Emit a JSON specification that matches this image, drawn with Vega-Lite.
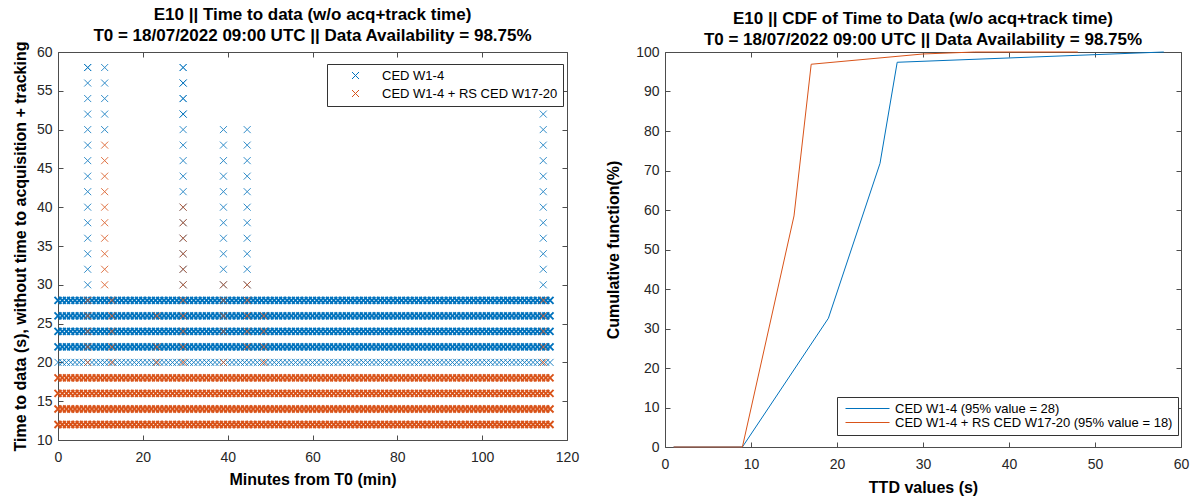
{
"$schema": "https://vega.github.io/schema/vega-lite/v6.json",
"padding": {"left": 11, "top": 5, "right": 5, "bottom": 2},
"background": "white",
"config": {
 "font": "Liberation Sans",
 "view": {"stroke": "#4d4d4d", "strokeWidth": 1},
 "axis": {"domain": false, "grid": false, "ticks": true, "tickSize": -5, "tickColor": "#4d4d4d", "tickWidth": 1, "labelFont": "Liberation Sans", "labelFontSize": 14, "labelColor": "#262626", "labelFlush": false, "labelOverlap": false, "titleFont": "Liberation Sans", "titleFontSize": 16, "titleFontWeight": "bold", "titleColor": "#000000"},
 "legend": {"strokeColor": "#333333", "fillColor": "#ffffff", "labelFont": "Liberation Sans", "labelFontSize": 13, "labelColor": "#000000", "labelLimit": 500, "padding": 5},
 "title": {"font": "Liberation Sans", "fontSize": 17, "fontWeight": "bold", "color": "#000000", "lineHeight": 21, "offset": -4, "anchor": "middle"}
},
"datasets": {
 "bd": [
{"x":0,"y":28},{"x":1,"y":28},{"x":2,"y":28},{"x":3,"y":28},{"x":4,"y":28},{"x":5,"y":28},{"x":6,"y":28},{"x":7,"y":28},{"x":8,"y":28},{"x":9,"y":28},{"x":10,"y":28},{"x":11,"y":28},{"x":12,"y":28},{"x":13,"y":28},{"x":14,"y":28},{"x":15,"y":28},{"x":16,"y":28},{"x":17,"y":28},{"x":18,"y":28},{"x":19,"y":28},{"x":20,"y":28},{"x":21,"y":28},{"x":22,"y":28},{"x":23,"y":28},{"x":24,"y":28},{"x":25,"y":28},{"x":26,"y":28},{"x":27,"y":28},{"x":28,"y":28},{"x":29,"y":28},{"x":30,"y":28},{"x":31,"y":28},{"x":32,"y":28},{"x":33,"y":28},{"x":34,"y":28},{"x":35,"y":28},{"x":36,"y":28},{"x":37,"y":28},{"x":38,"y":28},{"x":39,"y":28},{"x":40,"y":28},{"x":41,"y":28},{"x":42,"y":28},{"x":43,"y":28},{"x":44,"y":28},{"x":45,"y":28},{"x":46,"y":28},{"x":47,"y":28},{"x":48,"y":28},{"x":49,"y":28},{"x":50,"y":28},{"x":51,"y":28},{"x":52,"y":28},{"x":53,"y":28},{"x":54,"y":28},{"x":55,"y":28},{"x":56,"y":28},{"x":57,"y":28},{"x":58,"y":28},{"x":59,"y":28},{"x":60,"y":28},{"x":61,"y":28},{"x":62,"y":28},{"x":63,"y":28},{"x":64,"y":28},{"x":65,"y":28},{"x":66,"y":28},{"x":67,"y":28},{"x":68,"y":28},{"x":69,"y":28},{"x":70,"y":28},{"x":71,"y":28},{"x":72,"y":28},{"x":73,"y":28},{"x":74,"y":28},{"x":75,"y":28},{"x":76,"y":28},{"x":77,"y":28},{"x":78,"y":28},{"x":79,"y":28},{"x":80,"y":28},{"x":81,"y":28},{"x":82,"y":28},{"x":83,"y":28},{"x":84,"y":28},{"x":85,"y":28},{"x":86,"y":28},{"x":87,"y":28},{"x":88,"y":28},{"x":89,"y":28},{"x":90,"y":28},{"x":91,"y":28},{"x":92,"y":28},{"x":93,"y":28},{"x":94,"y":28},{"x":95,"y":28},{"x":96,"y":28},{"x":97,"y":28},{"x":98,"y":28},{"x":99,"y":28},{"x":100,"y":28},{"x":101,"y":28},{"x":102,"y":28},{"x":103,"y":28},{"x":104,"y":28},{"x":105,"y":28},{"x":106,"y":28},{"x":107,"y":28},{"x":108,"y":28},{"x":109,"y":28},{"x":110,"y":28},{"x":111,"y":28},{"x":112,"y":28},{"x":113,"y":28},{"x":114,"y":28},{"x":115,"y":28},{"x":116,"y":28},
{"x":0,"y":26},{"x":1,"y":26},{"x":2,"y":26},{"x":3,"y":26},{"x":4,"y":26},{"x":5,"y":26},{"x":6,"y":26},{"x":7,"y":26},{"x":8,"y":26},{"x":9,"y":26},{"x":10,"y":26},{"x":11,"y":26},{"x":12,"y":26},{"x":13,"y":26},{"x":14,"y":26},{"x":15,"y":26},{"x":16,"y":26},{"x":17,"y":26},{"x":18,"y":26},{"x":19,"y":26},{"x":20,"y":26},{"x":21,"y":26},{"x":22,"y":26},{"x":23,"y":26},{"x":24,"y":26},{"x":25,"y":26},{"x":26,"y":26},{"x":27,"y":26},{"x":28,"y":26},{"x":29,"y":26},{"x":30,"y":26},{"x":31,"y":26},{"x":32,"y":26},{"x":33,"y":26},{"x":34,"y":26},{"x":35,"y":26},{"x":36,"y":26},{"x":37,"y":26},{"x":38,"y":26},{"x":39,"y":26},{"x":40,"y":26},{"x":41,"y":26},{"x":42,"y":26},{"x":43,"y":26},{"x":44,"y":26},{"x":45,"y":26},{"x":46,"y":26},{"x":47,"y":26},{"x":48,"y":26},{"x":49,"y":26},{"x":50,"y":26},{"x":51,"y":26},{"x":52,"y":26},{"x":53,"y":26},{"x":54,"y":26},{"x":55,"y":26},{"x":56,"y":26},{"x":57,"y":26},{"x":58,"y":26},{"x":59,"y":26},{"x":60,"y":26},{"x":61,"y":26},{"x":62,"y":26},{"x":63,"y":26},{"x":64,"y":26},{"x":65,"y":26},{"x":66,"y":26},{"x":67,"y":26},{"x":68,"y":26},{"x":69,"y":26},{"x":70,"y":26},{"x":71,"y":26},{"x":72,"y":26},{"x":73,"y":26},{"x":74,"y":26},{"x":75,"y":26},{"x":76,"y":26},{"x":77,"y":26},{"x":78,"y":26},{"x":79,"y":26},{"x":80,"y":26},{"x":81,"y":26},{"x":82,"y":26},{"x":83,"y":26},{"x":84,"y":26},{"x":85,"y":26},{"x":86,"y":26},{"x":87,"y":26},{"x":88,"y":26},{"x":89,"y":26},{"x":90,"y":26},{"x":91,"y":26},{"x":92,"y":26},{"x":93,"y":26},{"x":94,"y":26},{"x":95,"y":26},{"x":96,"y":26},{"x":97,"y":26},{"x":98,"y":26},{"x":99,"y":26},{"x":100,"y":26},{"x":101,"y":26},{"x":102,"y":26},{"x":103,"y":26},{"x":104,"y":26},{"x":105,"y":26},{"x":106,"y":26},{"x":107,"y":26},{"x":108,"y":26},{"x":109,"y":26},{"x":110,"y":26},{"x":111,"y":26},{"x":112,"y":26},{"x":113,"y":26},{"x":114,"y":26},{"x":115,"y":26},{"x":116,"y":26},
{"x":0,"y":24},{"x":1,"y":24},{"x":2,"y":24},{"x":3,"y":24},{"x":4,"y":24},{"x":5,"y":24},{"x":6,"y":24},{"x":7,"y":24},{"x":8,"y":24},{"x":9,"y":24},{"x":10,"y":24},{"x":11,"y":24},{"x":12,"y":24},{"x":13,"y":24},{"x":14,"y":24},{"x":15,"y":24},{"x":16,"y":24},{"x":17,"y":24},{"x":18,"y":24},{"x":19,"y":24},{"x":20,"y":24},{"x":21,"y":24},{"x":22,"y":24},{"x":23,"y":24},{"x":24,"y":24},{"x":25,"y":24},{"x":26,"y":24},{"x":27,"y":24},{"x":28,"y":24},{"x":29,"y":24},{"x":30,"y":24},{"x":31,"y":24},{"x":32,"y":24},{"x":33,"y":24},{"x":34,"y":24},{"x":35,"y":24},{"x":36,"y":24},{"x":37,"y":24},{"x":38,"y":24},{"x":39,"y":24},{"x":40,"y":24},{"x":41,"y":24},{"x":42,"y":24},{"x":43,"y":24},{"x":44,"y":24},{"x":45,"y":24},{"x":46,"y":24},{"x":47,"y":24},{"x":48,"y":24},{"x":49,"y":24},{"x":50,"y":24},{"x":51,"y":24},{"x":52,"y":24},{"x":53,"y":24},{"x":54,"y":24},{"x":55,"y":24},{"x":56,"y":24},{"x":57,"y":24},{"x":58,"y":24},{"x":59,"y":24},{"x":60,"y":24},{"x":61,"y":24},{"x":62,"y":24},{"x":63,"y":24},{"x":64,"y":24},{"x":65,"y":24},{"x":66,"y":24},{"x":67,"y":24},{"x":68,"y":24},{"x":69,"y":24},{"x":70,"y":24},{"x":71,"y":24},{"x":72,"y":24},{"x":73,"y":24},{"x":74,"y":24},{"x":75,"y":24},{"x":76,"y":24},{"x":77,"y":24},{"x":78,"y":24},{"x":79,"y":24},{"x":80,"y":24},{"x":81,"y":24},{"x":82,"y":24},{"x":83,"y":24},{"x":84,"y":24},{"x":85,"y":24},{"x":86,"y":24},{"x":87,"y":24},{"x":88,"y":24},{"x":89,"y":24},{"x":90,"y":24},{"x":91,"y":24},{"x":92,"y":24},{"x":93,"y":24},{"x":94,"y":24},{"x":95,"y":24},{"x":96,"y":24},{"x":97,"y":24},{"x":98,"y":24},{"x":99,"y":24},{"x":100,"y":24},{"x":101,"y":24},{"x":102,"y":24},{"x":103,"y":24},{"x":104,"y":24},{"x":105,"y":24},{"x":106,"y":24},{"x":107,"y":24},{"x":108,"y":24},{"x":109,"y":24},{"x":110,"y":24},{"x":111,"y":24},{"x":112,"y":24},{"x":113,"y":24},{"x":114,"y":24},{"x":115,"y":24},{"x":116,"y":24},
{"x":0,"y":22},{"x":1,"y":22},{"x":2,"y":22},{"x":3,"y":22},{"x":4,"y":22},{"x":5,"y":22},{"x":6,"y":22},{"x":7,"y":22},{"x":8,"y":22},{"x":9,"y":22},{"x":10,"y":22},{"x":11,"y":22},{"x":12,"y":22},{"x":13,"y":22},{"x":14,"y":22},{"x":15,"y":22},{"x":16,"y":22},{"x":17,"y":22},{"x":18,"y":22},{"x":19,"y":22},{"x":20,"y":22},{"x":21,"y":22},{"x":22,"y":22},{"x":23,"y":22},{"x":24,"y":22},{"x":25,"y":22},{"x":26,"y":22},{"x":27,"y":22},{"x":28,"y":22},{"x":29,"y":22},{"x":30,"y":22},{"x":31,"y":22},{"x":32,"y":22},{"x":33,"y":22},{"x":34,"y":22},{"x":35,"y":22},{"x":36,"y":22},{"x":37,"y":22},{"x":38,"y":22},{"x":39,"y":22},{"x":40,"y":22},{"x":41,"y":22},{"x":42,"y":22},{"x":43,"y":22},{"x":44,"y":22},{"x":45,"y":22},{"x":46,"y":22},{"x":47,"y":22},{"x":48,"y":22},{"x":49,"y":22},{"x":50,"y":22},{"x":51,"y":22},{"x":52,"y":22},{"x":53,"y":22},{"x":54,"y":22},{"x":55,"y":22},{"x":56,"y":22},{"x":57,"y":22},{"x":58,"y":22},{"x":59,"y":22},{"x":60,"y":22},{"x":61,"y":22},{"x":62,"y":22},{"x":63,"y":22},{"x":64,"y":22},{"x":65,"y":22},{"x":66,"y":22},{"x":67,"y":22},{"x":68,"y":22},{"x":69,"y":22},{"x":70,"y":22},{"x":71,"y":22},{"x":72,"y":22},{"x":73,"y":22},{"x":74,"y":22},{"x":75,"y":22},{"x":76,"y":22},{"x":77,"y":22},{"x":78,"y":22},{"x":79,"y":22},{"x":80,"y":22},{"x":81,"y":22},{"x":82,"y":22},{"x":83,"y":22},{"x":84,"y":22},{"x":85,"y":22},{"x":86,"y":22},{"x":87,"y":22},{"x":88,"y":22},{"x":89,"y":22},{"x":90,"y":22},{"x":91,"y":22},{"x":92,"y":22},{"x":93,"y":22},{"x":94,"y":22},{"x":95,"y":22},{"x":96,"y":22},{"x":97,"y":22},{"x":98,"y":22},{"x":99,"y":22},{"x":100,"y":22},{"x":101,"y":22},{"x":102,"y":22},{"x":103,"y":22},{"x":104,"y":22},{"x":105,"y":22},{"x":106,"y":22},{"x":107,"y":22},{"x":108,"y":22},{"x":109,"y":22},{"x":110,"y":22},{"x":111,"y":22},{"x":112,"y":22},{"x":113,"y":22},{"x":114,"y":22},{"x":115,"y":22},{"x":116,"y":22}
 ],
 "bl": [
{"x":0,"y":20},{"x":1,"y":20},{"x":2,"y":20},{"x":3,"y":20},{"x":4,"y":20},{"x":5,"y":20},{"x":6,"y":20},{"x":7,"y":20},{"x":8,"y":20},{"x":9,"y":20},{"x":10,"y":20},{"x":11,"y":20},{"x":12,"y":20},{"x":13,"y":20},{"x":14,"y":20},{"x":15,"y":20},{"x":16,"y":20},{"x":17,"y":20},{"x":18,"y":20},{"x":19,"y":20},{"x":20,"y":20},{"x":21,"y":20},{"x":22,"y":20},{"x":23,"y":20},{"x":24,"y":20},{"x":25,"y":20},{"x":26,"y":20},{"x":27,"y":20},{"x":28,"y":20},{"x":29,"y":20},{"x":30,"y":20},{"x":31,"y":20},{"x":32,"y":20},{"x":33,"y":20},{"x":34,"y":20},{"x":35,"y":20},{"x":36,"y":20},{"x":37,"y":20},{"x":38,"y":20},{"x":39,"y":20},{"x":40,"y":20},{"x":41,"y":20},{"x":42,"y":20},{"x":43,"y":20},{"x":44,"y":20},{"x":45,"y":20},{"x":46,"y":20},{"x":47,"y":20},{"x":48,"y":20},{"x":49,"y":20},{"x":50,"y":20},{"x":51,"y":20},{"x":52,"y":20},{"x":53,"y":20},{"x":54,"y":20},{"x":55,"y":20},{"x":56,"y":20},{"x":57,"y":20},{"x":58,"y":20},{"x":59,"y":20},{"x":60,"y":20},{"x":61,"y":20},{"x":62,"y":20},{"x":63,"y":20},{"x":64,"y":20},{"x":65,"y":20},{"x":66,"y":20},{"x":67,"y":20},{"x":68,"y":20},{"x":69,"y":20},{"x":70,"y":20},{"x":71,"y":20},{"x":72,"y":20},{"x":73,"y":20},{"x":74,"y":20},{"x":75,"y":20},{"x":76,"y":20},{"x":77,"y":20},{"x":78,"y":20},{"x":79,"y":20},{"x":80,"y":20},{"x":81,"y":20},{"x":82,"y":20},{"x":83,"y":20},{"x":84,"y":20},{"x":85,"y":20},{"x":86,"y":20},{"x":87,"y":20},{"x":88,"y":20},{"x":89,"y":20},{"x":90,"y":20},{"x":91,"y":20},{"x":92,"y":20},{"x":93,"y":20},{"x":94,"y":20},{"x":95,"y":20},{"x":96,"y":20},{"x":97,"y":20},{"x":98,"y":20},{"x":99,"y":20},{"x":100,"y":20},{"x":101,"y":20},{"x":102,"y":20},{"x":103,"y":20},{"x":104,"y":20},{"x":105,"y":20},{"x":106,"y":20},{"x":107,"y":20},{"x":108,"y":20},{"x":109,"y":20},{"x":110,"y":20},{"x":111,"y":20},{"x":112,"y":20},{"x":113,"y":20},{"x":114,"y":20},{"x":115,"y":20},{"x":116,"y":20}
 ],
 "bs": [
{"x":7,"y":30},{"x":7,"y":32},{"x":7,"y":34},{"x":7,"y":36},{"x":7,"y":38},{"x":7,"y":40},{"x":7,"y":42},{"x":7,"y":44},{"x":7,"y":46},{"x":7,"y":48},{"x":7,"y":50},{"x":7,"y":52},{"x":7,"y":54},{"x":7,"y":56},{"x":7,"y":58},{"x":7,"y":58},
{"x":11,"y":50},{"x":11,"y":52},{"x":11,"y":54},{"x":11,"y":56},{"x":11,"y":58},
{"x":29.5,"y":30},{"x":29.5,"y":32},{"x":29.5,"y":34},{"x":29.5,"y":36},{"x":29.5,"y":38},{"x":29.5,"y":40},{"x":29.5,"y":42},{"x":29.5,"y":44},{"x":29.5,"y":46},{"x":29.5,"y":48},{"x":29.5,"y":50},{"x":29.5,"y":52},{"x":29.5,"y":54},{"x":29.5,"y":56},{"x":29.5,"y":58},{"x":29.5,"y":52},{"x":29.5,"y":54},{"x":29.5,"y":56},{"x":29.5,"y":58},
{"x":39,"y":30},{"x":39,"y":32},{"x":39,"y":34},{"x":39,"y":36},{"x":39,"y":38},{"x":39,"y":40},{"x":39,"y":42},{"x":39,"y":44},{"x":39,"y":46},{"x":39,"y":48},{"x":39,"y":50},
{"x":44.6,"y":30},{"x":44.6,"y":32},{"x":44.6,"y":34},{"x":44.6,"y":36},{"x":44.6,"y":38},{"x":44.6,"y":40},{"x":44.6,"y":42},{"x":44.6,"y":44},{"x":44.6,"y":46},{"x":44.6,"y":48},{"x":44.6,"y":50},
{"x":114.4,"y":30},{"x":114.4,"y":32},{"x":114.4,"y":34},{"x":114.4,"y":36},{"x":114.4,"y":38},{"x":114.4,"y":40},{"x":114.4,"y":42},{"x":114.4,"y":44},{"x":114.4,"y":46},{"x":114.4,"y":48},{"x":114.4,"y":50},{"x":114.4,"y":52}
 ],
 "od": [
{"x":0,"y":18},{"x":1,"y":18},{"x":2,"y":18},{"x":3,"y":18},{"x":4,"y":18},{"x":5,"y":18},{"x":6,"y":18},{"x":7,"y":18},{"x":8,"y":18},{"x":9,"y":18},{"x":10,"y":18},{"x":11,"y":18},{"x":12,"y":18},{"x":13,"y":18},{"x":14,"y":18},{"x":15,"y":18},{"x":16,"y":18},{"x":17,"y":18},{"x":18,"y":18},{"x":19,"y":18},{"x":20,"y":18},{"x":21,"y":18},{"x":22,"y":18},{"x":23,"y":18},{"x":24,"y":18},{"x":25,"y":18},{"x":26,"y":18},{"x":27,"y":18},{"x":28,"y":18},{"x":29,"y":18},{"x":30,"y":18},{"x":31,"y":18},{"x":32,"y":18},{"x":33,"y":18},{"x":34,"y":18},{"x":35,"y":18},{"x":36,"y":18},{"x":37,"y":18},{"x":38,"y":18},{"x":39,"y":18},{"x":40,"y":18},{"x":41,"y":18},{"x":42,"y":18},{"x":43,"y":18},{"x":44,"y":18},{"x":45,"y":18},{"x":46,"y":18},{"x":47,"y":18},{"x":48,"y":18},{"x":49,"y":18},{"x":50,"y":18},{"x":51,"y":18},{"x":52,"y":18},{"x":53,"y":18},{"x":54,"y":18},{"x":55,"y":18},{"x":56,"y":18},{"x":57,"y":18},{"x":58,"y":18},{"x":59,"y":18},{"x":60,"y":18},{"x":61,"y":18},{"x":62,"y":18},{"x":63,"y":18},{"x":64,"y":18},{"x":65,"y":18},{"x":66,"y":18},{"x":67,"y":18},{"x":68,"y":18},{"x":69,"y":18},{"x":70,"y":18},{"x":71,"y":18},{"x":72,"y":18},{"x":73,"y":18},{"x":74,"y":18},{"x":75,"y":18},{"x":76,"y":18},{"x":77,"y":18},{"x":78,"y":18},{"x":79,"y":18},{"x":80,"y":18},{"x":81,"y":18},{"x":82,"y":18},{"x":83,"y":18},{"x":84,"y":18},{"x":85,"y":18},{"x":86,"y":18},{"x":87,"y":18},{"x":88,"y":18},{"x":89,"y":18},{"x":90,"y":18},{"x":91,"y":18},{"x":92,"y":18},{"x":93,"y":18},{"x":94,"y":18},{"x":95,"y":18},{"x":96,"y":18},{"x":97,"y":18},{"x":98,"y":18},{"x":99,"y":18},{"x":100,"y":18},{"x":101,"y":18},{"x":102,"y":18},{"x":103,"y":18},{"x":104,"y":18},{"x":105,"y":18},{"x":106,"y":18},{"x":107,"y":18},{"x":108,"y":18},{"x":109,"y":18},{"x":110,"y":18},{"x":111,"y":18},{"x":112,"y":18},{"x":113,"y":18},{"x":114,"y":18},{"x":115,"y":18},{"x":116,"y":18},
{"x":0,"y":16},{"x":1,"y":16},{"x":2,"y":16},{"x":3,"y":16},{"x":4,"y":16},{"x":5,"y":16},{"x":6,"y":16},{"x":7,"y":16},{"x":8,"y":16},{"x":9,"y":16},{"x":10,"y":16},{"x":11,"y":16},{"x":12,"y":16},{"x":13,"y":16},{"x":14,"y":16},{"x":15,"y":16},{"x":16,"y":16},{"x":17,"y":16},{"x":18,"y":16},{"x":19,"y":16},{"x":20,"y":16},{"x":21,"y":16},{"x":22,"y":16},{"x":23,"y":16},{"x":24,"y":16},{"x":25,"y":16},{"x":26,"y":16},{"x":27,"y":16},{"x":28,"y":16},{"x":29,"y":16},{"x":30,"y":16},{"x":31,"y":16},{"x":32,"y":16},{"x":33,"y":16},{"x":34,"y":16},{"x":35,"y":16},{"x":36,"y":16},{"x":37,"y":16},{"x":38,"y":16},{"x":39,"y":16},{"x":40,"y":16},{"x":41,"y":16},{"x":42,"y":16},{"x":43,"y":16},{"x":44,"y":16},{"x":45,"y":16},{"x":46,"y":16},{"x":47,"y":16},{"x":48,"y":16},{"x":49,"y":16},{"x":50,"y":16},{"x":51,"y":16},{"x":52,"y":16},{"x":53,"y":16},{"x":54,"y":16},{"x":55,"y":16},{"x":56,"y":16},{"x":57,"y":16},{"x":58,"y":16},{"x":59,"y":16},{"x":60,"y":16},{"x":61,"y":16},{"x":62,"y":16},{"x":63,"y":16},{"x":64,"y":16},{"x":65,"y":16},{"x":66,"y":16},{"x":67,"y":16},{"x":68,"y":16},{"x":69,"y":16},{"x":70,"y":16},{"x":71,"y":16},{"x":72,"y":16},{"x":73,"y":16},{"x":74,"y":16},{"x":75,"y":16},{"x":76,"y":16},{"x":77,"y":16},{"x":78,"y":16},{"x":79,"y":16},{"x":80,"y":16},{"x":81,"y":16},{"x":82,"y":16},{"x":83,"y":16},{"x":84,"y":16},{"x":85,"y":16},{"x":86,"y":16},{"x":87,"y":16},{"x":88,"y":16},{"x":89,"y":16},{"x":90,"y":16},{"x":91,"y":16},{"x":92,"y":16},{"x":93,"y":16},{"x":94,"y":16},{"x":95,"y":16},{"x":96,"y":16},{"x":97,"y":16},{"x":98,"y":16},{"x":99,"y":16},{"x":100,"y":16},{"x":101,"y":16},{"x":102,"y":16},{"x":103,"y":16},{"x":104,"y":16},{"x":105,"y":16},{"x":106,"y":16},{"x":107,"y":16},{"x":108,"y":16},{"x":109,"y":16},{"x":110,"y":16},{"x":111,"y":16},{"x":112,"y":16},{"x":113,"y":16},{"x":114,"y":16},{"x":115,"y":16},{"x":116,"y":16},
{"x":0,"y":14},{"x":1,"y":14},{"x":2,"y":14},{"x":3,"y":14},{"x":4,"y":14},{"x":5,"y":14},{"x":6,"y":14},{"x":7,"y":14},{"x":8,"y":14},{"x":9,"y":14},{"x":10,"y":14},{"x":11,"y":14},{"x":12,"y":14},{"x":13,"y":14},{"x":14,"y":14},{"x":15,"y":14},{"x":16,"y":14},{"x":17,"y":14},{"x":18,"y":14},{"x":19,"y":14},{"x":20,"y":14},{"x":21,"y":14},{"x":22,"y":14},{"x":23,"y":14},{"x":24,"y":14},{"x":25,"y":14},{"x":26,"y":14},{"x":27,"y":14},{"x":28,"y":14},{"x":29,"y":14},{"x":30,"y":14},{"x":31,"y":14},{"x":32,"y":14},{"x":33,"y":14},{"x":34,"y":14},{"x":35,"y":14},{"x":36,"y":14},{"x":37,"y":14},{"x":38,"y":14},{"x":39,"y":14},{"x":40,"y":14},{"x":41,"y":14},{"x":42,"y":14},{"x":43,"y":14},{"x":44,"y":14},{"x":45,"y":14},{"x":46,"y":14},{"x":47,"y":14},{"x":48,"y":14},{"x":49,"y":14},{"x":50,"y":14},{"x":51,"y":14},{"x":52,"y":14},{"x":53,"y":14},{"x":54,"y":14},{"x":55,"y":14},{"x":56,"y":14},{"x":57,"y":14},{"x":58,"y":14},{"x":59,"y":14},{"x":60,"y":14},{"x":61,"y":14},{"x":62,"y":14},{"x":63,"y":14},{"x":64,"y":14},{"x":65,"y":14},{"x":66,"y":14},{"x":67,"y":14},{"x":68,"y":14},{"x":69,"y":14},{"x":70,"y":14},{"x":71,"y":14},{"x":72,"y":14},{"x":73,"y":14},{"x":74,"y":14},{"x":75,"y":14},{"x":76,"y":14},{"x":77,"y":14},{"x":78,"y":14},{"x":79,"y":14},{"x":80,"y":14},{"x":81,"y":14},{"x":82,"y":14},{"x":83,"y":14},{"x":84,"y":14},{"x":85,"y":14},{"x":86,"y":14},{"x":87,"y":14},{"x":88,"y":14},{"x":89,"y":14},{"x":90,"y":14},{"x":91,"y":14},{"x":92,"y":14},{"x":93,"y":14},{"x":94,"y":14},{"x":95,"y":14},{"x":96,"y":14},{"x":97,"y":14},{"x":98,"y":14},{"x":99,"y":14},{"x":100,"y":14},{"x":101,"y":14},{"x":102,"y":14},{"x":103,"y":14},{"x":104,"y":14},{"x":105,"y":14},{"x":106,"y":14},{"x":107,"y":14},{"x":108,"y":14},{"x":109,"y":14},{"x":110,"y":14},{"x":111,"y":14},{"x":112,"y":14},{"x":113,"y":14},{"x":114,"y":14},{"x":115,"y":14},{"x":116,"y":14},
{"x":0,"y":12},{"x":1,"y":12},{"x":2,"y":12},{"x":3,"y":12},{"x":4,"y":12},{"x":5,"y":12},{"x":6,"y":12},{"x":7,"y":12},{"x":8,"y":12},{"x":9,"y":12},{"x":10,"y":12},{"x":11,"y":12},{"x":12,"y":12},{"x":13,"y":12},{"x":14,"y":12},{"x":15,"y":12},{"x":16,"y":12},{"x":17,"y":12},{"x":18,"y":12},{"x":19,"y":12},{"x":20,"y":12},{"x":21,"y":12},{"x":22,"y":12},{"x":23,"y":12},{"x":24,"y":12},{"x":25,"y":12},{"x":26,"y":12},{"x":27,"y":12},{"x":28,"y":12},{"x":29,"y":12},{"x":30,"y":12},{"x":31,"y":12},{"x":32,"y":12},{"x":33,"y":12},{"x":34,"y":12},{"x":35,"y":12},{"x":36,"y":12},{"x":37,"y":12},{"x":38,"y":12},{"x":39,"y":12},{"x":40,"y":12},{"x":41,"y":12},{"x":42,"y":12},{"x":43,"y":12},{"x":44,"y":12},{"x":45,"y":12},{"x":46,"y":12},{"x":47,"y":12},{"x":48,"y":12},{"x":49,"y":12},{"x":50,"y":12},{"x":51,"y":12},{"x":52,"y":12},{"x":53,"y":12},{"x":54,"y":12},{"x":55,"y":12},{"x":56,"y":12},{"x":57,"y":12},{"x":58,"y":12},{"x":59,"y":12},{"x":60,"y":12},{"x":61,"y":12},{"x":62,"y":12},{"x":63,"y":12},{"x":64,"y":12},{"x":65,"y":12},{"x":66,"y":12},{"x":67,"y":12},{"x":68,"y":12},{"x":69,"y":12},{"x":70,"y":12},{"x":71,"y":12},{"x":72,"y":12},{"x":73,"y":12},{"x":74,"y":12},{"x":75,"y":12},{"x":76,"y":12},{"x":77,"y":12},{"x":78,"y":12},{"x":79,"y":12},{"x":80,"y":12},{"x":81,"y":12},{"x":82,"y":12},{"x":83,"y":12},{"x":84,"y":12},{"x":85,"y":12},{"x":86,"y":12},{"x":87,"y":12},{"x":88,"y":12},{"x":89,"y":12},{"x":90,"y":12},{"x":91,"y":12},{"x":92,"y":12},{"x":93,"y":12},{"x":94,"y":12},{"x":95,"y":12},{"x":96,"y":12},{"x":97,"y":12},{"x":98,"y":12},{"x":99,"y":12},{"x":100,"y":12},{"x":101,"y":12},{"x":102,"y":12},{"x":103,"y":12},{"x":104,"y":12},{"x":105,"y":12},{"x":106,"y":12},{"x":107,"y":12},{"x":108,"y":12},{"x":109,"y":12},{"x":110,"y":12},{"x":111,"y":12},{"x":112,"y":12},{"x":113,"y":12},{"x":114,"y":12},{"x":115,"y":12},{"x":116,"y":12}
 ],
 "os": [
{"x":11,"y":30},{"x":11,"y":32},{"x":11,"y":34},{"x":11,"y":36},{"x":11,"y":38},{"x":11,"y":40},{"x":11,"y":42},{"x":11,"y":44},{"x":11,"y":46},{"x":11,"y":48},
{"x":29.5,"y":30},{"x":29.5,"y":32},{"x":29.5,"y":34},{"x":29.5,"y":36},{"x":29.5,"y":38},{"x":29.5,"y":40},
{"x":39,"y":30},{"x":44.6,"y":30},
{"x":7,"y":20},{"x":7,"y":22},{"x":7,"y":24},{"x":7,"y":26},{"x":7,"y":28},
{"x":12.7,"y":20},{"x":12.7,"y":22},{"x":12.7,"y":24},{"x":12.7,"y":26},{"x":12.7,"y":28},
{"x":23.3,"y":20},{"x":23.3,"y":22},{"x":23.3,"y":26},
{"x":29.5,"y":20},{"x":29.5,"y":22},{"x":29.5,"y":24},{"x":29.5,"y":26},{"x":29.5,"y":28},
{"x":39,"y":20},{"x":39,"y":24},{"x":39,"y":26},{"x":39,"y":28},
{"x":44.6,"y":22},{"x":44.6,"y":24},{"x":44.6,"y":26},{"x":44.6,"y":28},
{"x":48.5,"y":20},{"x":48.5,"y":22},{"x":48.5,"y":24},{"x":48.5,"y":26},
{"x":114.4,"y":20},{"x":114.4,"y":22},{"x":114.4,"y":24},{"x":114.4,"y":26},{"x":114.4,"y":28}
 ],
 "cdf": [
{"s":"CED W1-4 (95% value = 28)","x":1,"y":0},
{"s":"CED W1-4 (95% value = 28)","x":9,"y":0},
{"s":"CED W1-4 (95% value = 28)","x":19,"y":32.6},
{"s":"CED W1-4 (95% value = 28)","x":25,"y":71.8},
{"s":"CED W1-4 (95% value = 28)","x":27,"y":97.4},
{"s":"CED W1-4 (95% value = 28)","x":58,"y":100},
{"s":"CED W1-4 + RS CED W17-20 (95% value = 18)","x":1,"y":0},
{"s":"CED W1-4 + RS CED W17-20 (95% value = 18)","x":9,"y":0},
{"s":"CED W1-4 + RS CED W17-20 (95% value = 18)","x":15,"y":58.5},
{"s":"CED W1-4 + RS CED W17-20 (95% value = 18)","x":17,"y":96.9},
{"s":"CED W1-4 + RS CED W17-20 (95% value = 18)","x":30,"y":99.5},
{"s":"CED W1-4 + RS CED W17-20 (95% value = 18)","x":36,"y":100},
{"s":"CED W1-4 + RS CED W17-20 (95% value = 18)","x":48,"y":100}
 ]
},
"hconcat": [
 {
  "width": 509, "height": 388,
  "title": {"text": ["E10 || Time to data (w/o acq+track time)", "T0 = 18/07/2022 09:00 UTC || Data Availability = 98.75%"]},
  "layer": [
   {"data": {"name": "bd"},
    "mark": {"type": "point", "shape": "M-1,-1L1,1M1,-1L-1,1", "size": 49, "strokeWidth": 1.9, "filled": false, "opacity": 1},
    "encoding": {
     "x": {"field": "x", "type": "quantitative", "scale": {"domain": [0, 120], "nice": false, "zero": false}, "axis": {"orient": "bottom", "values": [0,20,40,60,80,100,120], "title": "Minutes from T0 (min)", "labelPadding": 15, "titlePadding": 7}},
     "y": {"field": "y", "type": "quantitative", "scale": {"domain": [10, 60], "nice": false, "zero": false}, "axis": {"orient": "left", "values": [10,15,20,25,30,35,40,45,50,55,60], "title": "Time to data (s), without time to acquisition + tracking", "labelPadding": 11, "titlePadding": 8}},
     "color": {"datum": "CED W1-4", "type": "nominal", "scale": {"domain": ["CED W1-4", "CED W1-4 + RS CED W17-20"], "range": ["#0072BD", "#D95319"]},
      "legend": {"title": null, "orient": "none", "legendX": 269, "legendY": 12, "symbolType": "M-1,-1L1,1M1,-1L-1,1", "symbolSize": 49, "symbolStrokeWidth": 1, "symbolOffset": 17, "labelOffset": 20, "rowPadding": 4, "padding": 5,
       "encode": {"symbols": {"update": {"stroke": {"signal": "datum.value === 'CED W1-4' ? '#0072BD' : '#D95319'"}, "fill": {"value": "transparent"}}}}}}
    }},
   {"data": {"name": "bl"},
    "mark": {"type": "point", "shape": "M-1,-1L1,1M1,-1L-1,1", "size": 49, "strokeWidth": 1, "filled": false, "opacity": 0.85},
    "encoding": {
     "x": {"field": "x", "type": "quantitative", "axis": null},
     "y": {"field": "y", "type": "quantitative", "axis": null},
     "color": {"datum": "CED W1-4", "type": "nominal"}
    }},
   {"data": {"name": "bs"},
    "mark": {"type": "point", "shape": "M-1,-1L1,1M1,-1L-1,1", "size": 49, "strokeWidth": 1, "filled": false, "opacity": 0.8},
    "encoding": {
     "x": {"field": "x", "type": "quantitative", "axis": null},
     "y": {"field": "y", "type": "quantitative", "axis": null},
     "color": {"datum": "CED W1-4", "type": "nominal"}
    }},
   {"data": {"name": "od"},
    "mark": {"type": "point", "shape": "M-1,-1L1,1M1,-1L-1,1", "size": 49, "strokeWidth": 1.9, "filled": false, "opacity": 1},
    "encoding": {
     "x": {"field": "x", "type": "quantitative", "axis": null},
     "y": {"field": "y", "type": "quantitative", "axis": null},
     "color": {"datum": "CED W1-4 + RS CED W17-20", "type": "nominal"}
    }},
   {"data": {"name": "os"},
    "mark": {"type": "point", "shape": "M-1,-1L1,1M1,-1L-1,1", "size": 49, "strokeWidth": 1, "filled": false, "opacity": 0.8},
    "encoding": {
     "x": {"field": "x", "type": "quantitative", "axis": {"orient": "top", "values": [0,20,40,60,80,100,120], "labels": false, "title": null}},
     "y": {"field": "y", "type": "quantitative", "axis": {"orient": "right", "values": [10,15,20,25,30,35,40,45,50,55,60], "labels": false, "title": null}},
     "color": {"datum": "CED W1-4 + RS CED W17-20", "type": "nominal"}
    }}
  ],
  "resolve": {"axis": {"x": "independent", "y": "independent"}}
 },
 {
  "width": 516, "height": 395,
  "title": {"text": ["E10 || CDF of Time to Data (w/o acq+track time)", "T0 = 18/07/2022 09:00 UTC || Data Availability = 98.75%"]},
  "layer": [
   {"data": {"name": "cdf"},
    "mark": {"type": "line", "strokeWidth": 1},
    "encoding": {
     "x": {"field": "x", "type": "quantitative", "scale": {"domain": [0, 60], "nice": false, "zero": false}, "axis": {"orient": "bottom", "values": [0,10,20,30,40,50,60], "title": "TTD values (s)", "labelPadding": 15, "titlePadding": 8}},
     "y": {"field": "y", "type": "quantitative", "scale": {"domain": [0, 100], "nice": false, "zero": false}, "axis": {"orient": "left", "values": [0,10,20,30,40,50,60,70,80,90,100], "title": "Cumulative function(%)", "labelPadding": 11, "titlePadding": 14}},
     "color": {"field": "s", "type": "nominal", "scale": {"domain": ["CED W1-4 (95% value = 28)", "CED W1-4 + RS CED W17-20 (95% value = 18)"], "range": ["#0072BD", "#D95319"]},
      "legend": {"title": null, "orient": "none", "legendX": 172, "legendY": 345, "symbolType": "M-5.5,0L5.5,0", "symbolSize": 64, "symbolStrokeWidth": 1, "symbolOffset": 19, "labelOffset": 21, "rowPadding": 0, "padding": 5}}
    }},
   {"data": {"name": "cdf"},
    "mark": {"type": "line", "opacity": 0},
    "encoding": {
     "x": {"field": "x", "type": "quantitative", "axis": {"orient": "top", "values": [0,10,20,30,40,50,60], "labels": false, "title": null}},
     "y": {"field": "y", "type": "quantitative", "axis": {"orient": "right", "values": [0,10,20,30,40,50,60,70,80,90,100], "labels": false, "title": null}},
     "detail": {"field": "s"}
    }}
  ],
  "resolve": {"axis": {"x": "independent", "y": "independent"}}
 }
],
"spacing": 98,
"bounds": "flush",
"resolve": {"scale": {"color": "independent"}, "legend": {"color": "independent"}}
}
